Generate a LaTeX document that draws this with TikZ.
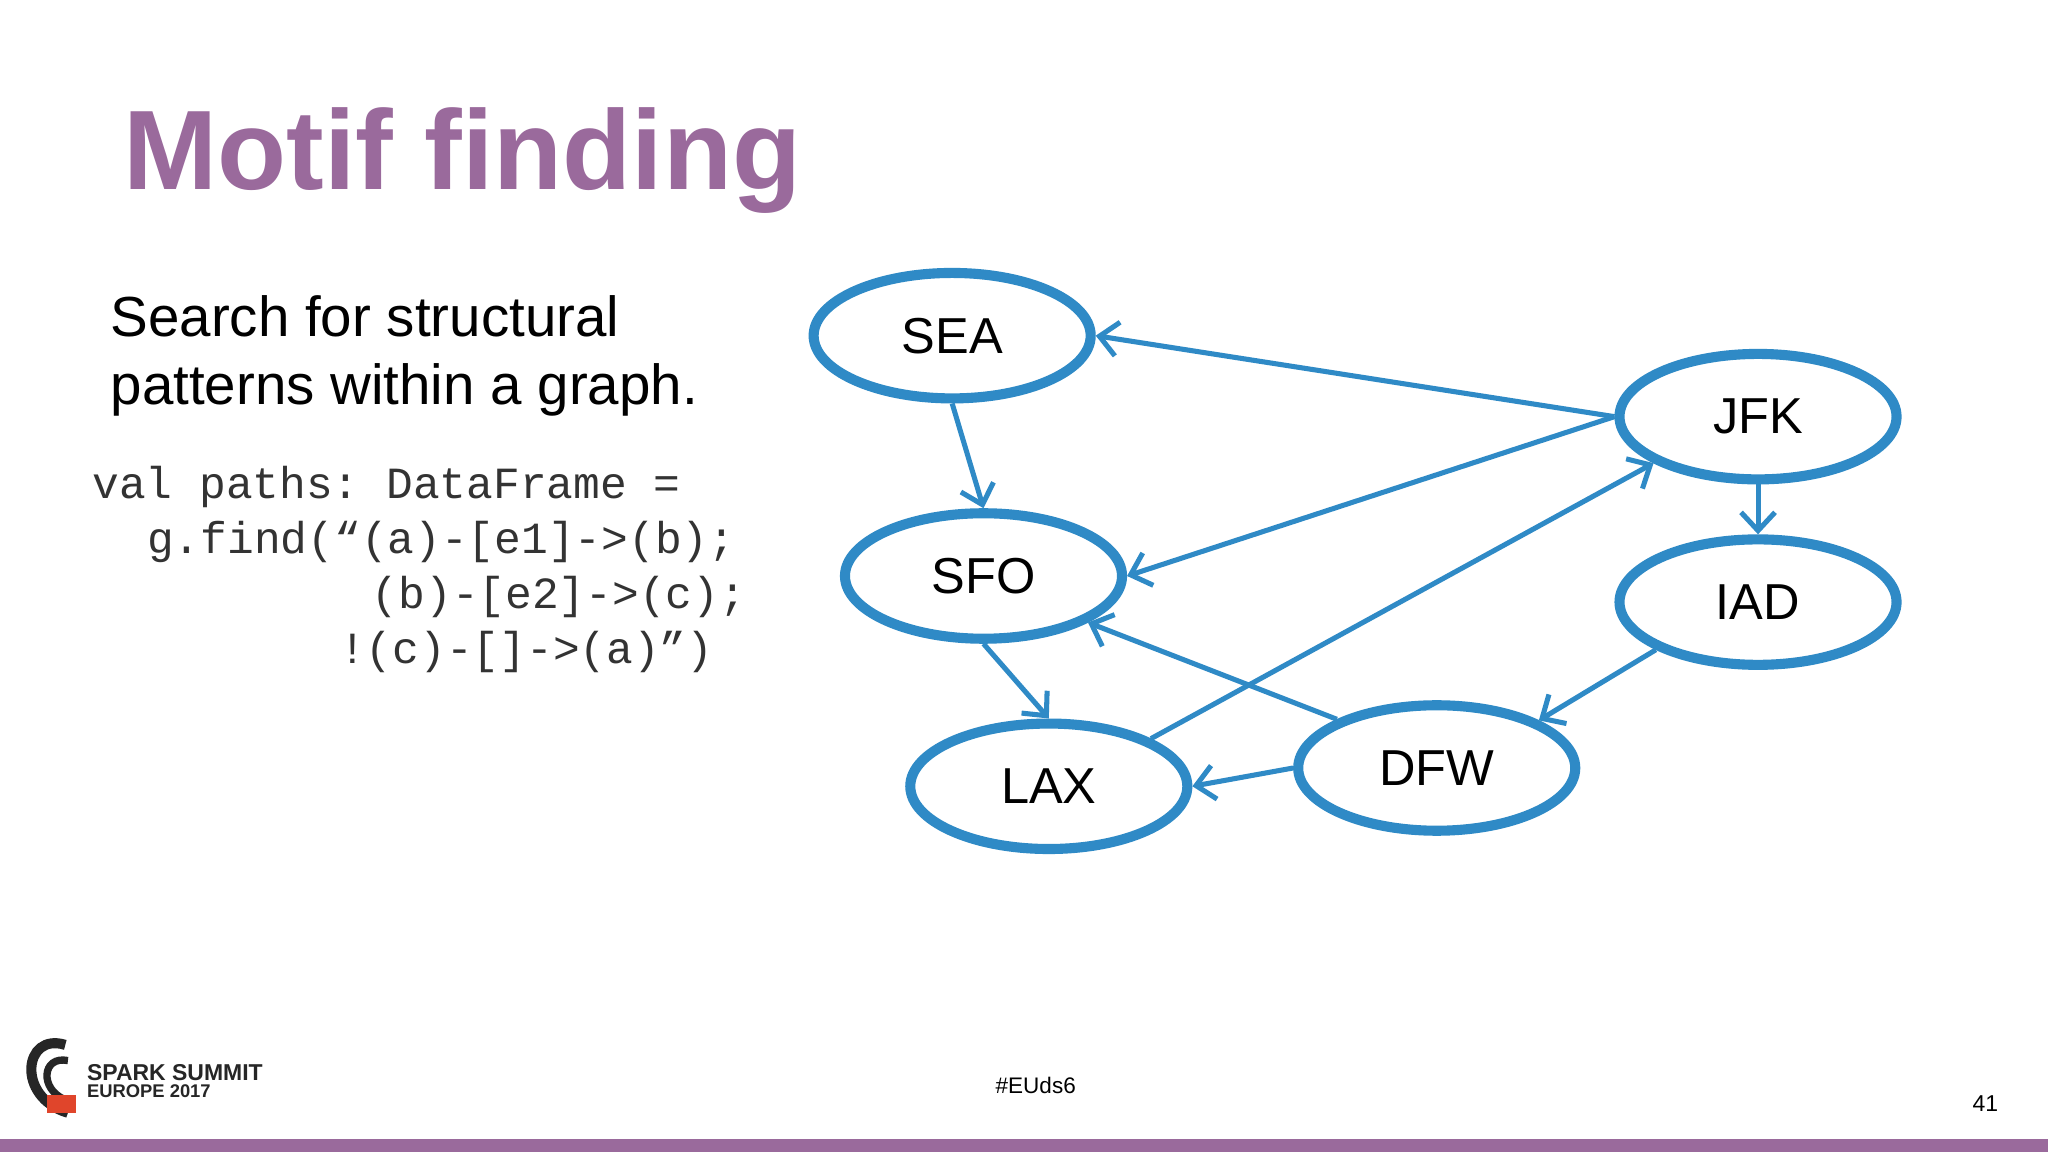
\documentclass[tikz,border=0pt]{standalone}
\usepackage{fontspec}
\setmainfont{Liberation Sans}
\setmonofont{Liberation Mono}
\usetikzlibrary{shapes.geometric, arrows.meta, positioning}
\definecolor{graphblue}{HTML}{2F8AC6}
\definecolor{titlepurple}{HTML}{9A6A9C}
\definecolor{logored}{HTML}{E0452B}
\begin{document}
\begin{tikzpicture}[x=0.01cm, y=-0.01cm,
    airport/.style={draw=graphblue, line width=2.2pt, ellipse, minimum width=2.12cm,
      minimum height=0.96cm, inner sep=0pt, font=\fontsize{11}{13}\selectfont},
    flight/.style={draw=graphblue, line width=1.1pt, -{Straight Barb[length=1.4mm,width=2.6mm]}},
    codeline/.style={anchor=base west, inner sep=0pt, font=\ttfamily\fontsize{9.7}{12}\selectfont, text=black!80}]
        \useasboundingbox (0,0) rectangle (1568,882);
        \fill[white] (0,0) rectangle (1568,882);
        \fill[titlepurple] (0,872) rectangle (1568,882);

        % Title and text
        \node[anchor=base west, inner sep=0pt, text=titlepurple, font=\bfseries\fontsize{24.6}{28}\selectfont] (title) at (94,145) {Motif finding};
        \node[anchor=base west, inner sep=0pt, font=\fontsize{12.3}{15}\selectfont] (desc1) at (84,258) {Search for structural};
        \node[anchor=base west, inner sep=0pt, font=\fontsize{12.3}{15}\selectfont] (desc2) at (84,310) {patterns within a graph.};
        \node[codeline] (code1) at (70,382) {val paths: DataFrame =};
        \node[codeline] (code2) at (112,424) {g.find(“(a)-[e1]->(b);};
        \node[codeline] (code3) at (284,466) {(b)-[e2]->(c);};
        \node[codeline] (code4) at (259,508) {!(c)-[]->(a)”)};

        % Airports
        \node[airport] (sea) at (729,257) {SEA};
        \node[airport] (jfk) at (1346,319) {JFK};
        \node[airport] (sfo) at (753,441) {SFO};
        \node[airport] (iad) at (1346,461) {IAD};
        \node[airport] (lax) at (803,602) {LAX};
        \node[airport] (dfw) at (1100,588) {DFW};

        % Flights
        \draw[flight] (jfk.west) -- (sea.east);
        \draw[flight] (sea.south) -- (sfo.north);
        \draw[flight] (jfk.west) -- (sfo.east);
        \draw[flight] (jfk.south) -- (iad.north);
        \draw[flight] (lax.25) -- (jfk.204);
        \draw[flight] (iad.205) -- (dfw.25);
        \draw[flight] (dfw.154) -- (sfo.-24);
        \draw[flight] (dfw.west) -- (lax.east);
        \draw[flight] (sfo.south) -- (lax.north);

        % Footer
        \node[inner sep=0pt, font=\fontsize{4.9}{6}\selectfont] (tag) at (793,831) {\#EUds6};
        \node[inner sep=0pt, font=\fontsize{5}{6}\selectfont] (page) at (1520,845) {41};
        \draw[line width=2.2pt, black!85] (52,852) .. controls (12,840) and (18,790) .. (50,800);
        \draw[line width=1.6pt, black!85] (50,842) .. controls (30,834) and (32,808) .. (52,812);
        \fill[logored] (36,838) rectangle (58,852);
        \node[anchor=base west, inner sep=0pt, font=\bfseries\fontsize{5}{6}\selectfont, text=black!85] (logo1) at (66,827) {SPARK SUMMIT};
        \node[anchor=base west, inner sep=0pt, font=\bfseries\fontsize{4}{5}\selectfont, text=black!85] (logo2) at (66,840) {EUROPE 2017};
\end{tikzpicture}
\end{document}
